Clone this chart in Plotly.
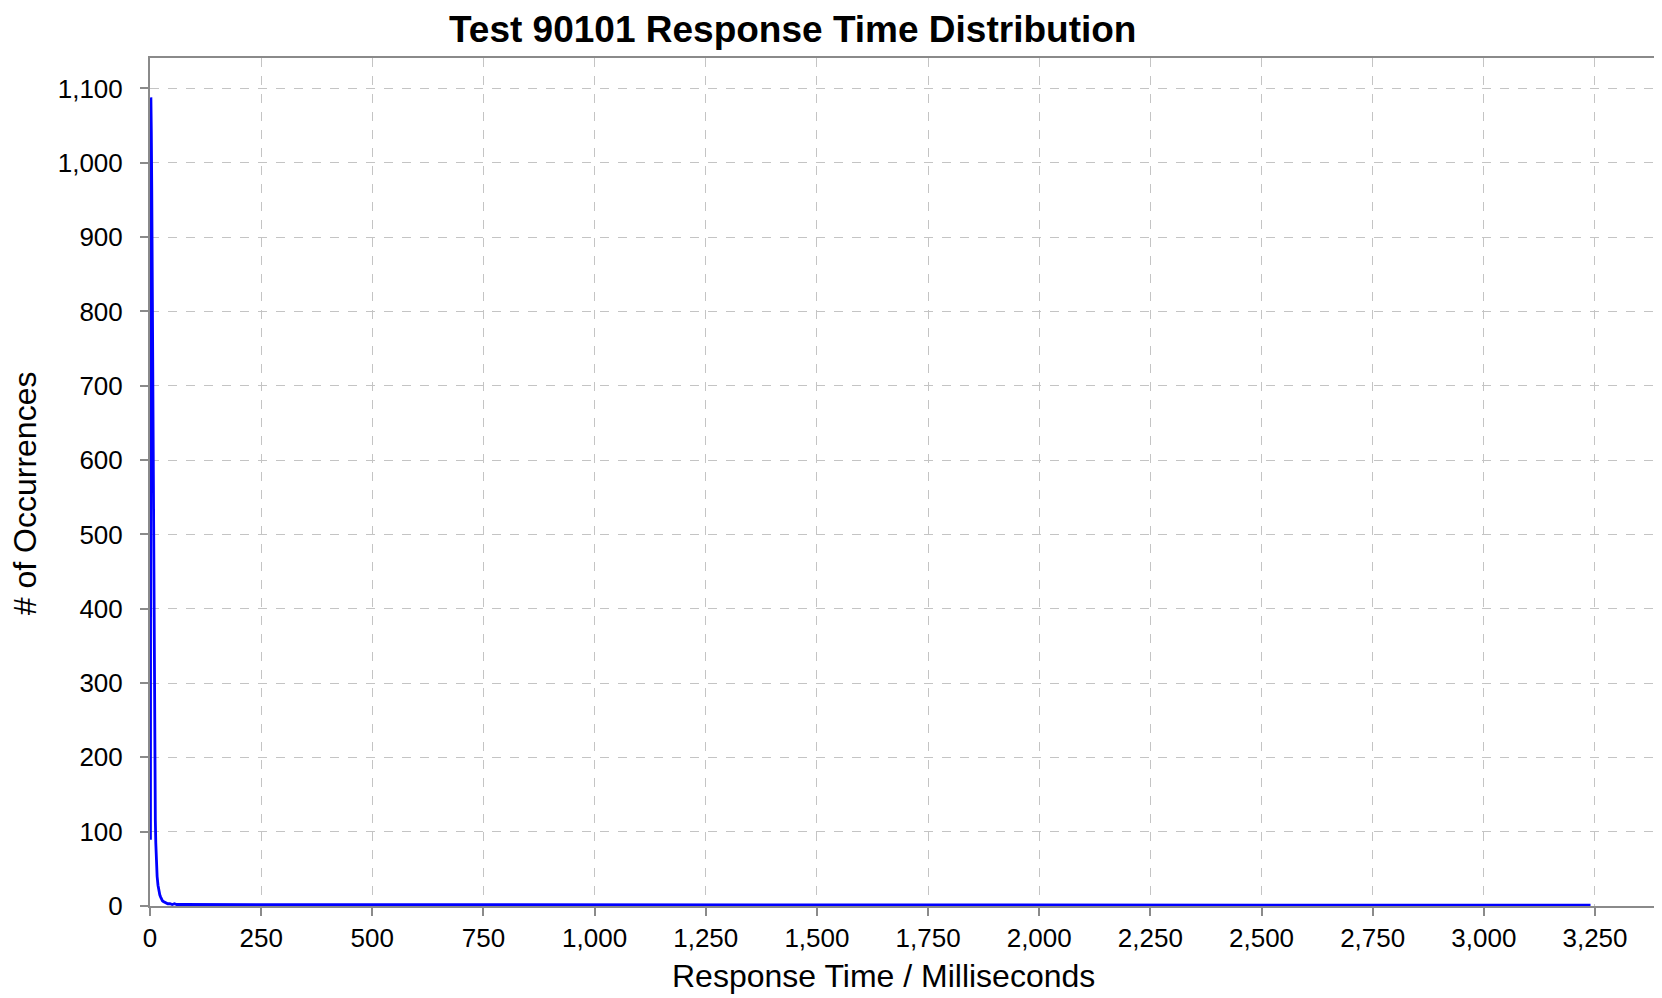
import plotly.graph_objects as go

# Data (response time in ms, number of occurrences)
rt_ms = [1, 2, 3, 4, 5, 6, 7, 8, 9, 10, 11, 12, 13, 14, 15, 16, 18, 20, 22, 24,
         26, 28, 30, 33, 36, 40, 45, 50, 55, 60, 70, 80, 90, 100, 120, 140, 160,
         180, 200, 225, 250, 275, 300, 350, 400, 450, 500, 600, 700, 800, 900,
         1000, 1200, 1400, 1600, 1800, 2000, 2200, 2400, 2600, 2800, 3000, 3240]
counts = [89, 1088, 1040, 960, 850, 700, 560, 430, 320, 230, 160, 115, 85, 65, 50,
          40, 28, 20, 15, 12, 9, 7, 6, 5, 4, 3, 3, 2, 3, 2, 2, 2, 1, 2, 1, 2, 1,
          1, 2, 1, 2, 1, 1, 1, 1, 1, 1, 1, 1, 1, 1, 1, 1, 1, 1, 1, 1, 1, 1, 1, 1,
          1, 1]

title_text = "Test 90101 Response Time Distribution"
x_title = "Response Time / Milliseconds"
y_title = "# of Occurrences"
x_tickvals = [0, 250, 500, 750, 1000, 1250, 1500, 1750, 2000, 2250, 2500, 2750, 3000, 3250]
y_tickvals = [0, 100, 200, 300, 400, 500, 600, 700, 800, 900, 1000, 1100]

FONT = "Liberation Sans, Arial, sans-serif"
AXIS_COLOR = "#8a8a8a"
GRID_COLOR = "#c4c4c4"

fig = go.Figure()
fig.add_trace(go.Scatter(
    x=rt_ms, y=counts, mode="lines",
    line=dict(color="#0000ff", width=2.8),
    showlegend=False, hoverinfo="x+y",
))

axis_common = dict(
    showline=True, linecolor=AXIS_COLOR, linewidth=2, mirror=True,
    showgrid=True, gridcolor=GRID_COLOR, griddash="dash", gridwidth=1,
    ticks="outside", ticklen=8, tickwidth=2, tickcolor=AXIS_COLOR,
    tickfont=dict(family=FONT, size=26, color="#000000"),
    tickformat=",d", zeroline=False,
)

fig.update_layout(
    width=1654, height=990,
    margin=dict(l=142, r=1, t=50, b=92),
    paper_bgcolor="white", plot_bgcolor="white",
    font=dict(family=FONT, color="#000000"),
    xaxis=dict(range=[0, 3394], tickvals=x_tickvals, **axis_common),
    yaxis=dict(range=[0, 1141], tickvals=y_tickvals, ticklabelstandoff=12, **axis_common),
    annotations=[
        dict(text="<b>" + title_text + "</b>", xref="paper", yref="paper",
             x=0.426, y=1.0335, xanchor="center", yanchor="middle",
             showarrow=False, font=dict(family=FONT, size=37, color="#000000")),
        dict(text=x_title, xref="paper", yref="paper",
             x=0.4864, y=-0.0825, xanchor="center", yanchor="middle",
             showarrow=False, font=dict(family=FONT, size=32, color="#000000")),
        dict(text=y_title, xref="paper", yref="paper",
             x=-0.0827, y=0.487, xanchor="center", yanchor="middle", textangle=-90,
             showarrow=False, font=dict(family=FONT, size=32, color="#000000")),
    ],
)

fig.write_html("out.html")
